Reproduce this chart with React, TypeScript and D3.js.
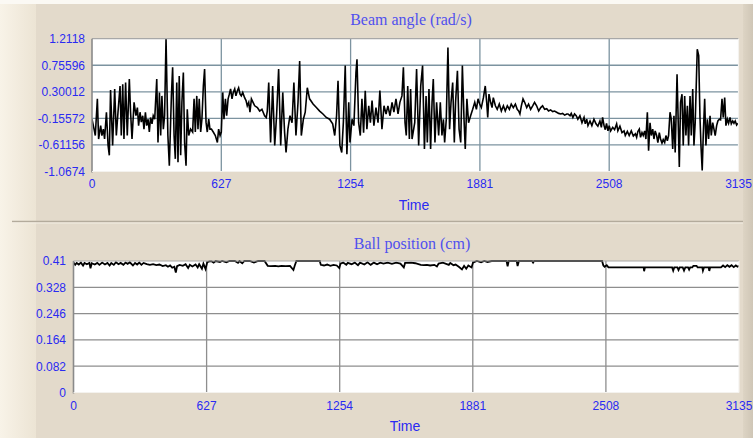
import React from "react";
import * as d3 from "d3";

const W = 753;
const H = 438;

const timeTicks = [0, 627, 1254, 1881, 2508, 3135];
const beamTicks = [1.2118, 0.75596, 0.30012, -0.15572, -0.61156, -1.0674];
const beamTickLabels = ["1.2118", "0.75596", "0.30012", "-0.15572", "-0.61156", "-1.0674"];
const ballTicks = [0.41, 0.328, 0.246, 0.164, 0.082, 0];
const ballTickLabels = ["0.41", "0.328", "0.246", "0.164", "0.082", "0"];

// Beam angle (rad/s): [time, value]
const beamAngle: [number, number][] = [
  [0,-0.17],[10,-0.34],[16,-0.45],[26,0.18],[32,-0.51],[42,-0.28],[48,-0.45],[55,-0.34],[61,-0.51],[70,-0.05],
  [78,-0.62],[84,-0.79],[90,0.33],[100,-0.62],[110,0.35],[118,-0.45],[126,-0.05],[136,0.40],[142,-0.45],[149,0.43],
  [155,-0.51],[163,0.46],[171,-0.45],[181,0.52],[187,-0.05],[194,-0.51],[204,0.12],[213,-0.11],[220,0.03],[226,-0.28],
  [233,-0.05],[239,-0.22],[246,-0.11],[252,-0.34],[259,-0.05],[265,-0.28],[272,-0.17],[278,-0.39],[284,-0.14],[291,-0.25],
  [297,-0.11],[304,-0.17],[314,0.52],[320,-0.57],[327,0.29],[333,-0.45],[339,0.23],[346,-0.34],[352,-0.11],[359,1.21],
  [368,-0.45],[375,-0.97],[385,0.23],[391,0.72],[398,-0.45],[404,-0.85],[411,0.46],[417,-0.91],[423,0.57],[430,-0.79],
  [436,0.12],[443,0.63],[449,-0.57],[456,-0.97],[462,0.0],[469,-0.45],[478,-0.34],[488,-0.39],[495,0.18],[501,-0.39],
  [508,0.23],[514,-0.34],[520,0.18],[527,-0.39],[533,-0.17],[540,0.40],[546,0.69],[553,-0.22],[559,-0.39],[566,-0.17],
  [572,-0.34],[579,-0.34],[588,-0.39],[598,-0.45],[608,-0.57],[614,-0.34],[621,-0.45],[627,-0.39],[634,0.29],[640,-0.17],
  [647,0.18],[653,-0.11],[660,0.18],[666,0.26],[672,0.35],[679,0.18],[685,0.29],[692,0.35],[698,0.23],[705,0.32],
  [711,0.37],[718,0.26],[724,0.23],[731,0.29],[740,0.20],[747,0.15],[753,0.06],[760,0.12],[766,-0.05],[773,0.18],
  [781,0.12],[789,0.06],[802,0.03],[813,-0.03],[824,0.0],[837,-0.11],[845,-0.14],[850,-0.03],[857,0.46],[866,-0.57],
  [876,0.40],[886,-0.62],[895,-0.11],[905,0.69],[915,-0.62],[925,0.29],[934,-0.40],[941,-0.74],[950,-0.34],[960,-0.11],
  [970,-0.23],[979,0.46],[989,-0.45],[999,0.12],[1007,0.83],[1015,-0.45],[1025,-0.17],[1034,-0.05],[1044,0.37],[1055,0.18],
  [1072,0.09],[1088,0.03],[1104,-0.03],[1120,-0.08],[1136,-0.14],[1152,-0.17],[1167,-0.25],[1177,-0.45],[1186,-0.11],[1193,0.49],
  [1202,-0.62],[1211,-0.74],[1219,-0.22],[1228,0.75],[1236,-0.77],[1245,0.12],[1251,-0.57],[1261,-0.17],[1270,-0.28],[1280,0.63],
  [1285,0.86],[1293,-0.23],[1301,-0.45],[1309,0.18],[1317,-0.40],[1325,0.32],[1333,-0.34],[1342,0.06],[1350,-0.23],[1358,0.15],
  [1367,-0.28],[1377,0.03],[1387,-0.23],[1396,0.32],[1406,-0.34],[1416,0.06],[1426,-0.08],[1435,0.06],[1445,-0.11],[1455,0.12],
  [1464,-0.05],[1474,0.18],[1484,-0.08],[1493,0.12],[1503,0.23],[1510,0.72],[1518,-0.23],[1524,-0.45],[1531,0.40],[1539,-0.51],
  [1545,0.35],[1552,-0.51],[1565,-0.23],[1574,0.69],[1584,-0.62],[1594,0.40],[1603,0.75],[1612,-0.68],[1620,0.23],[1626,-0.57],
  [1634,0.35],[1642,-0.68],[1649,0.12],[1655,0.52],[1663,-0.57],[1671,0.12],[1681,-0.45],[1689,0.12],[1697,-0.45],[1704,-0.17],
  [1710,-0.57],[1718,-0.17],[1726,1.06],[1734,-0.34],[1741,0.12],[1749,0.46],[1757,-0.57],[1763,0.12],[1772,0.66],[1780,-0.34],
  [1788,-0.57],[1796,0.75],[1804,-0.17],[1810,-0.68],[1818,0.18],[1826,-0.23],[1836,-0.11],[1846,0.0],[1856,0.12],[1864,0.0],
  [1872,0.18],[1880,0.09],[1888,0.03],[1898,0.20],[1907,0.40],[1914,0.12],[1919,-0.14],[1925,0.26],[1933,0.12],[1940,0.03],
  [1946,0.20],[1956,0.06],[1965,0.0],[1975,0.09],[1985,-0.03],[1995,0.06],[2004,-0.03],[2014,0.06],[2024,0.0],[2033,0.09],
  [2043,0.03],[2053,0.09],[2062,0.0],[2069,-0.03],[2075,-0.08],[2082,0.06],[2090,0.18],[2098,0.12],[2108,0.03],[2117,0.09],
  [2127,0.0],[2137,0.06],[2146,0.12],[2156,0.06],[2166,-0.03],[2176,0.03],[2185,0.06],[2195,0.0],[2205,0.01],[2214,-0.03],
  [2224,-0.01],[2234,-0.04],[2243,-0.03],[2253,-0.05],[2263,-0.07],[2273,-0.08],[2282,-0.07],[2292,-0.10],[2302,-0.08],[2308,-0.08],
  [2318,-0.11],[2324,-0.07],[2332,-0.14],[2340,-0.08],[2348,-0.11],[2356,-0.17],[2366,-0.11],[2376,-0.23],[2386,-0.14],[2392,-0.25],
  [2399,-0.17],[2405,-0.28],[2415,-0.20],[2424,-0.28],[2434,-0.17],[2444,-0.25],[2453,-0.29],[2463,-0.20],[2470,-0.31],[2476,-0.14],
  [2483,-0.28],[2489,-0.35],[2495,-0.24],[2502,-0.37],[2508,-0.28],[2515,-0.37],[2525,-0.31],[2534,-0.35],[2544,-0.25],[2550,-0.37],
  [2560,-0.29],[2570,-0.40],[2580,-0.37],[2586,-0.45],[2596,-0.38],[2605,-0.45],[2615,-0.37],[2625,-0.46],[2635,-0.42],[2641,-0.48],
  [2647,-0.38],[2654,-0.34],[2660,-0.48],[2667,-0.40],[2673,-0.45],[2680,-0.37],[2686,-0.51],[2693,-0.05],[2699,-0.71],[2706,-0.23],
  [2712,-0.45],[2719,-0.34],[2725,-0.51],[2731,-0.37],[2738,-0.45],[2744,-0.57],[2751,-0.40],[2757,-0.51],[2764,-0.58],[2770,-0.52],
  [2777,-0.57],[2783,-0.45],[2790,-0.54],[2796,-0.45],[2803,-0.05],[2809,-0.17],[2816,-0.68],[2822,-0.11],[2828,-0.74],[2837,0.60],
  [2848,-0.99],[2854,0.12],[2861,0.26],[2867,-0.62],[2874,0.23],[2880,-0.45],[2887,0.06],[2893,-0.62],[2900,0.23],[2906,-0.45],
  [2913,0.35],[2919,-0.62],[2925,-0.23],[2935,1.03],[2942,0.92],[2948,-0.11],[2953,-0.62],[2959,-1.05],[2964,-0.45],[2971,0.18],
  [2977,-0.62],[2984,-0.17],[2990,-0.51],[2997,-0.11],[3003,-0.45],[3010,-0.23],[3016,-0.34],[3022,-0.45],[3029,-0.28],[3035,-0.20],
  [3042,-0.17],[3048,-0.18],[3055,0.18],[3061,-0.14],[3068,0.20],[3074,-0.28],[3081,-0.17],[3087,-0.24],[3094,-0.14],[3100,-0.25],
  [3107,-0.20],[3113,-0.24],[3119,-0.20],[3126,-0.27],[3132,-0.24],
];

// Ball position (cm): [time, value]
const ballPosition: [number, number][] = [
  [0,0.405],[8,0.398],[15,0.404],[25,0.399],[35,0.405],[45,0.396],[52,0.404],[63,0.4],[75,0.404],[80,0.387],
  [86,0.403],[100,0.399],[112,0.404],[122,0.398],[135,0.405],[148,0.399],[160,0.404],[170,0.396],[178,0.404],[190,0.398],
  [200,0.406],[212,0.4],[222,0.404],[235,0.398],[245,0.405],[255,0.401],[265,0.406],[280,0.396],[290,0.404],[300,0.399],
  [310,0.405],[320,0.398],[330,0.404],[345,0.4],[360,0.398],[375,0.4],[390,0.397],[405,0.399],[420,0.394],[435,0.397],
  [445,0.392],[455,0.396],[465,0.389],[475,0.392],[482,0.374],[488,0.394],[500,0.398],[515,0.395],[528,0.4],[540,0.388],
  [548,0.398],[560,0.393],[575,0.399],[585,0.39],[592,0.4],[605,0.386],[612,0.402],[622,0.385],[630,0.406],[640,0.409],
  [650,0.409],[660,0.405],[670,0.41],[690,0.407],[700,0.41],[720,0.406],[735,0.41],[760,0.41],[775,0.404],[782,0.41],
  [795,0.403],[805,0.41],[830,0.41],[850,0.405],[870,0.41],[900,0.41],[915,0.395],[930,0.394],[950,0.395],[965,0.393],
  [980,0.395],[1000,0.394],[1020,0.395],[1036,0.382],[1042,0.395],[1050,0.41],[1100,0.41],[1160,0.41],[1165,0.398],[1180,0.396],
  [1195,0.399],[1210,0.395],[1225,0.398],[1240,0.396],[1252,0.388],[1258,0.402],[1270,0.405],[1285,0.398],[1292,0.404],[1310,0.4],
  [1325,0.405],[1340,0.397],[1350,0.405],[1370,0.399],[1385,0.406],[1400,0.398],[1415,0.405],[1430,0.4],[1445,0.405],[1460,0.402],
  [1480,0.405],[1500,0.401],[1520,0.405],[1540,0.402],[1556,0.39],[1562,0.404],[1590,0.405],[1610,0.403],[1636,0.398],[1650,0.397],
  [1665,0.398],[1680,0.396],[1700,0.398],[1712,0.393],[1720,0.402],[1740,0.405],[1768,0.398],[1775,0.404],[1790,0.397],[1800,0.399],
  [1815,0.392],[1830,0.384],[1840,0.395],[1850,0.386],[1860,0.396],[1875,0.39],[1882,0.405],[1900,0.41],[1920,0.406],[1935,0.41],
  [1950,0.407],[1970,0.41],[2000,0.41],[2040,0.41],[2045,0.393],[2050,0.41],[2088,0.41],[2092,0.394],[2098,0.41],[2160,0.41],
  [2165,0.405],[2170,0.41],[2490,0.41],[2496,0.396],[2502,0.392],[2512,0.397],[2520,0.39],[2600,0.39],[2686,0.39],[2688,0.378],
  [2692,0.39],[2820,0.39],[2825,0.38],[2830,0.39],[2845,0.39],[2850,0.382],[2856,0.39],[2870,0.39],[2876,0.38],[2882,0.39],
  [2895,0.39],[2900,0.383],[2905,0.39],[2915,0.39],[2920,0.395],[2935,0.395],[2940,0.39],[2962,0.39],[2965,0.38],[2970,0.39],
  [2992,0.39],[2995,0.379],[2999,0.39],[3050,0.39],[3060,0.396],[3070,0.391],[3080,0.397],[3090,0.392],[3100,0.397],[3110,0.391],
  [3120,0.396],[3128,0.392],[3135,0.395],
];

const BLUE = "#2a2af2";
const TITLE_BLUE = "#5050ee";
const SANS = "'Liberation Sans', Arial, sans-serif";
const SERIF = "'Liberation Serif', 'Times New Roman', serif";

type PanelProps = {
  title: string;
  titleX: number;
  titleY: number;
  timeX: number;
  timeY: number;
  left: number;
  right: number;
  top: number;
  bottom: number;
  domain: [number, number];
  ticks: number[];
  tickLabels: string[];
  data: [number, number][];
  gridColor: string;
  lineWidth: number;
  labelRight: number;
  xLabelY: number;
  clipId: string;
};

function Panel(p: PanelProps) {
  const x = d3.scaleLinear().domain([0, 3135]).range([p.left, p.right]);
  const y = d3.scaleLinear().domain(p.domain).range([p.bottom, p.top]);
  const line = d3
    .line<[number, number]>()
    .x((d) => x(d[0]))
    .y((d) => y(d[1]));
  const inner = p.ticks.filter((t) => t !== p.domain[0] && t !== p.domain[1]);
  const innerX = timeTicks.filter((t) => t !== 0 && t !== 3135);
  return (
    <g>
      <text x={p.titleX} y={p.titleY} textAnchor="middle" fontFamily={SERIF} fontSize={16} fill={TITLE_BLUE}>
        {p.title}
      </text>
      <rect x={p.left} y={p.top} width={p.right - p.left} height={p.bottom - p.top} fill="#ffffff" />
      {inner.map((t) => (
        <line key={"h" + t} x1={p.left} x2={p.right} y1={y(t)} y2={y(t)} stroke={p.gridColor} strokeWidth={1.3} />
      ))}
      {innerX.map((t) => (
        <line key={"v" + t} x1={x(t)} x2={x(t)} y1={p.top} y2={p.bottom} stroke={p.gridColor} strokeWidth={1.3} />
      ))}
      <clipPath id={p.clipId}>
        <rect x={p.left} y={p.top - 1} width={p.right - p.left} height={p.bottom - p.top + 2} />
      </clipPath>
      <path d={line(p.data) || ""} fill="none" stroke="#000" strokeWidth={p.lineWidth} strokeLinejoin="miter" clipPath={`url(#${p.clipId})`} />
      <line x1={p.left} x2={p.right} y1={p.top} y2={p.top} stroke="#a8a8a8" strokeWidth={1.2} />
      <line x1={p.left} x2={p.left} y1={p.top} y2={p.bottom + 1} stroke="#8a8a8a" strokeWidth={1.6} />
      <line x1={p.left} x2={p.right} y1={p.bottom} y2={p.bottom} stroke="#f4f2ee" strokeWidth={1.2} />
      <line x1={p.right} x2={p.right} y1={p.top} y2={p.bottom} stroke="#f4f2ee" strokeWidth={1.2} />
      {p.ticks.map((t, i) => (
        <text key={"yl" + t} x={p.labelRight} y={y(t)} dy="0.36em" textAnchor="end" fontFamily={SANS} fontSize={12} fill={BLUE}>
          {p.tickLabels[i]}
        </text>
      ))}
      {timeTicks.map((t) => (
        <text key={"xl" + t} x={x(t)} y={p.xLabelY} textAnchor="middle" fontFamily={SANS} fontSize={12} fill={BLUE}>
          {t}
        </text>
      ))}
      <text x={p.timeX} y={p.timeY} textAnchor="middle" fontFamily={SANS} fontSize={14} fill={BLUE}>
        Time
      </text>
    </g>
  );
}

export default function App() {
  return (
    <svg width={W} height={H} viewBox={`0 0 ${W} ${H}`} style={{ position: "absolute", left: 0, top: 0, display: "block" }}>
      <defs>
        <linearGradient id="leftStrip" x1="0" x2="1" y1="0" y2="0">
          <stop offset="0" stopColor="#f8f3e8" />
          <stop offset="1" stopColor="#ece4d4" />
        </linearGradient>
        <linearGradient id="rightStrip" x1="0" x2="1" y1="0" y2="0">
          <stop offset="0" stopColor="#ddd4c4" />
          <stop offset="1" stopColor="#cfc6b6" />
        </linearGradient>
      </defs>
      <rect x={0} y={0} width={W} height={H} fill="#e3dacb" />
      <rect x={0} y={0} width={36} height={H} fill="url(#leftStrip)" />
      <rect x={743} y={0} width={10} height={H} fill="url(#rightStrip)" />
      <rect x={0} y={0} width={W} height={4} fill="#fbf9f4" />
      <line x1={12} x2={743} y1={221.5} y2={221.5} stroke="#b3ab9c" strokeWidth={1.5} />
      <line x1={12} x2={743} y1={223} y2={223} stroke="#f2ede3" strokeWidth={1} />
      <Panel
        title="Beam angle (rad/s)"
        titleX={411}
        titleY={25}
        timeX={414}
        timeY={210}
        left={92}
        right={738.5}
        top={38.7}
        bottom={171.5}
        domain={[-1.0674, 1.2118]}
        ticks={beamTicks}
        tickLabels={beamTickLabels}
        data={beamAngle}
        gridColor="#7c93a0"
        lineWidth={1.6}
        labelRight={85}
        xLabelY={188}
        clipId="clipTop"
      />
      <Panel
        title="Ball position (cm)"
        titleX={412}
        titleY={249}
        timeX={405}
        timeY={431}
        left={73.5}
        right={739}
        top={261}
        bottom={392.5}
        domain={[0, 0.41]}
        ticks={ballTicks}
        tickLabels={ballTickLabels}
        data={ballPosition}
        gridColor="#8e8e8e"
        lineWidth={1.8}
        labelRight={66}
        xLabelY={410}
        clipId="clipBottom"
      />
    </svg>
  );
}
